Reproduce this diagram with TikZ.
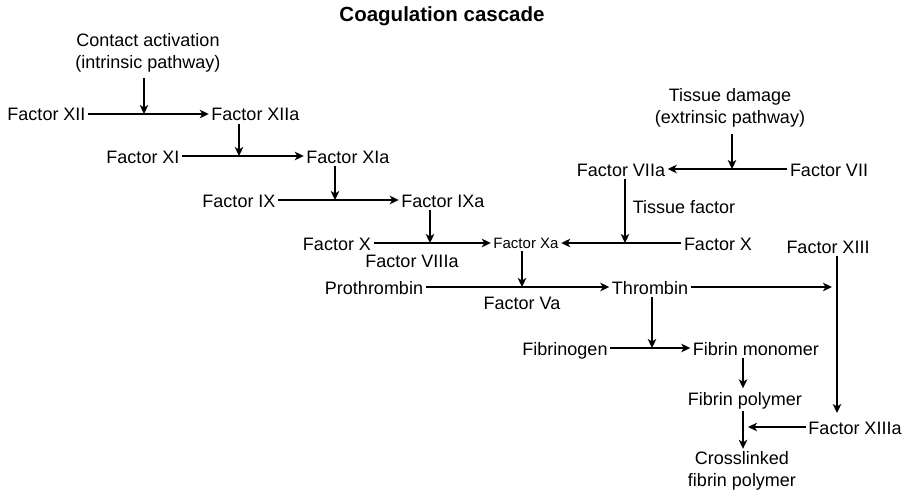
\documentclass[tikz,border=0pt]{standalone}
\usepackage{fontspec}
\setmainfont{Liberation Sans}
\usetikzlibrary{arrows.meta}

\begin{document}
\begin{tikzpicture}[x=1pt,y=-1pt]
\tikzstyle{every node}+=[inner sep=2.5pt,font=\fontsize{18}{22}\selectfont,text height=14pt,text depth=0pt]
\tikzstyle{two}=[align=center,text height={},text depth={}]
\tikzstyle{arr}=[line width=2pt,-{Stealth[length=9pt,width=8.5pt,inset=2.5pt]}]
\useasboundingbox (0,0) rectangle (907,492);
\draw (442,15) node (title) [font=\fontsize{20.5}{24}\selectfont\bfseries] {Coagulation cascade};
\draw (148,52.9) node (act) [two] {Contact activation\\(intrinsic pathway)};
\draw (46.5,114) node (f12) {Factor XII};
\draw (255.5,114) node (f12a) {Factor XIIa};
\draw (143,156) node (f11) {Factor XI};
\draw (348,156) node (f11a) {Factor XIa};
\draw (239,200) node (f9) {Factor IX};
\draw (443,200) node (f9a) {Factor IXa};
\draw (337,243) node (f10) {Factor X};
\draw (526,243) node (f10a) [font=\fontsize{15}{18}\selectfont,text height=11pt] {Factor Xa};
\draw (412,260) node (f8a) {Factor VIIIa};
\draw (374,287) node (pro) {Prothrombin};
\draw (650,287) node (thr) {Thrombin};
\draw (522,302) node (f5a) {Factor Va};
\draw (730,107.9) node (tis) [two] {Tissue damage\\(extrinsic pathway)};
\draw (621,169) node (f7a) {Factor VIIa};
\draw (829,169) node (f7) {Factor VII};
\draw (684,206) node (tf) {Tissue factor};
\draw (718,243) node (f10r) {Factor X};
\draw (828,246) node (f13) {Factor XIII};
\draw (565,348) node (fgen) {Fibrinogen};
\draw (756,348) node (fmon) {Fibrin monomer};
\draw (745,398) node (fpol) {Fibrin polymer};
\draw (855,427) node (f13a) {Factor XIIIa};
\draw (742,470.9) node (xlink) [two] {Crosslinked\\fibrin polymer};
\coordinate (j1) at (144,114);
\coordinate (j2) at (239,156);
\coordinate (j3) at (335,200);
\coordinate (j4) at (430,243);
\coordinate (j5) at (522,287);
\coordinate (j6) at (732,169);
\coordinate (j7) at (625,243);
\coordinate (j8) at (832,287);
\coordinate (j9) at (837,413);
\coordinate (j10) at (652,348);
\coordinate (j11) at (743,427);
\coordinate (j12) at (748,427);
\draw [arr,shorten <=3pt] (act.south -| j1) -- (j1);
\draw [arr] (f12) -- (f12a);
\draw [arr] (f12a.south -| j2) -- (j2);
\draw [arr] (f11) -- (f11a);
\draw [arr] (f11a.south -| j3) -- (j3);
\draw [arr] (f9) -- (f9a);
\draw [arr] (f9a.south -| j4) -- (j4);
\draw [arr] (f10) -- (f10a);
\draw [arr] (f10a.south -| j5) -- (j5);
\draw [arr] (pro) -- (thr);
\draw [arr,shorten <=4pt] (tis.south -| j6) -- (j6);
\draw [arr] (f7) -- (f7a);
\draw [arr] (f7a.south -| j7) -- (j7);
\draw [arr] (f10r) -- (f10a);
\draw [arr] (thr) -- (j8);
\draw [arr] (f13.south -| j9) -- (j9);
\draw [arr] (thr.south -| j10) -- (j10);
\draw [arr] (fgen) -- (fmon);
\draw [arr] (fmon.south -| j11) -- (fpol.north -| j11);
\draw [arr,shorten <=3pt] (fpol.south -| j11) -- (xlink.north -| j11);
\draw [arr] (f13a) -- (j12);
\end{tikzpicture}
\end{document}
